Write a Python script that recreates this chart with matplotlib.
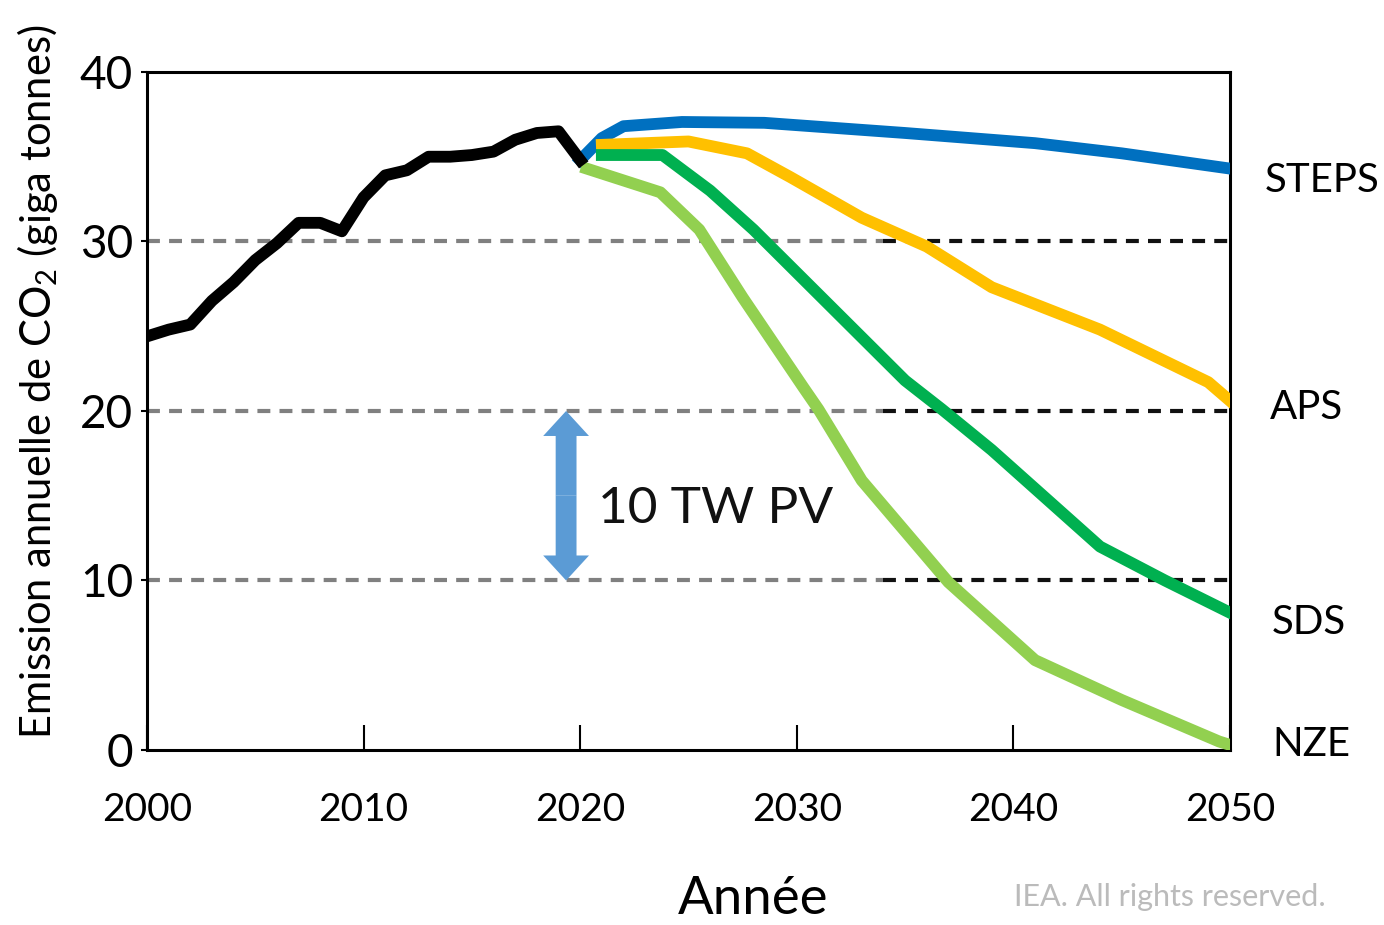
import matplotlib
matplotlib.use("Agg")
import matplotlib.pyplot as plt
from matplotlib import font_manager

# ---- data -------------------------------------------------------------
hist_years = [2000, 2001, 2002, 2003, 2004, 2005, 2006, 2007, 2008, 2009, 2010,
              2011, 2012, 2013, 2014, 2015, 2016, 2017, 2018, 2019, 2020]
hist_values = [24.4, 24.8, 25.1, 26.5, 27.6, 28.9, 29.9, 31.1, 31.1, 30.6, 32.6,
               33.9, 34.2, 35.0, 35.0, 35.1, 35.3, 36.0, 36.4, 36.5, 34.8]

steps_years = [2020, 2021, 2022, 2024.7, 2028.5, 2035, 2041, 2045, 2050]
steps_values = [34.8, 36.1, 36.8, 37.05, 37.0, 36.4, 35.8, 35.2, 34.3]

aps_years = [2021, 2025, 2027.7, 2029.7, 2033, 2036, 2039, 2044, 2049, 2050]
aps_values = [35.7, 35.9, 35.2, 33.8, 31.4, 29.7, 27.3, 24.8, 21.7, 20.6]

sds_years = [2021, 2023.8, 2026, 2028, 2035, 2036.7, 2039, 2044, 2047, 2050]
sds_values = [35.1, 35.1, 33.0, 30.7, 21.8, 20.1, 17.7, 12.0, 10.0, 8.1]

nze_years = [2020.3, 2023.7, 2025.5, 2027.5, 2030.3, 2031, 2033, 2037, 2041, 2045, 2049.5, 2050]
nze_values = [34.3, 32.9, 30.7, 26.7, 21.4, 20.1, 15.9, 9.9, 5.3, 2.95, 0.5, 0.3]

scenario_labels = ["STEPS", "APS", "SDS", "NZE"]
x_ticks = [2000, 2010, 2020, 2030, 2040, 2050]
y_ticks = [0, 10, 20, 30, 40]
grid_levels = [10, 20, 30]
pv_range = (10, 20)

# ---- fonts ------------------------------------------------------------
available = {f.name for f in font_manager.fontManager.ttflist}
main_font = "Liberation Sans Narrow" if "Liberation Sans Narrow" in available else "Lato"
plt.rcParams["font.family"] = [main_font, "DejaVu Sans"]
plt.rcParams["mathtext.fontset"] = "custom"
plt.rcParams["mathtext.rm"] = main_font
plt.rcParams["mathtext.it"] = main_font

fig = plt.figure(figsize=(13.84, 9.25), dpi=100)
ax = fig.add_axes([0.1062, 0.1892, 0.7825, 0.7330])

# dashed reference levels: grey on the left, darker on the right
for lvl in grid_levels:
    ax.axhline(lvl, xmin=0.0, xmax=0.68, color="#808080", lw=3.0,
               dashes=(3.1, 2.2), zorder=1)
    ax.axhline(lvl, xmin=0.68, xmax=1.0, color="#111111", lw=3.0,
               dashes=(3.1, 2.2), zorder=1)

lw = 8.5
ax.plot(steps_years, steps_values, color="#0070C0", lw=lw, solid_joinstyle="round", zorder=3)
ax.plot(aps_years, aps_values, color="#FFC000", lw=lw, solid_joinstyle="round", zorder=3)
ax.plot(sds_years, sds_values, color="#00B050", lw=lw, solid_joinstyle="round", zorder=3)
ax.plot(nze_years, nze_values, color="#92D050", lw=lw, solid_joinstyle="round", zorder=3)
ax.plot(hist_years, hist_values, color="black", lw=lw, solid_joinstyle="round", zorder=4)

# double-headed arrow marking the 10 Gt band
arrow_x = 2019.35
mid = sum(pv_range) / 2
for end in pv_range:
    ax.annotate("", xy=(arrow_x, end), xytext=(arrow_x, mid),
                arrowprops=dict(arrowstyle="simple,head_length=1.8,head_width=3.3,tail_width=1.5",
                                color="#5B9BD5", lw=0, shrinkA=0, shrinkB=0,
                                mutation_scale=10),
                zorder=5)
ax.text(2020.8, 14.2, "10 TW PV", fontsize=37, va="center", ha="left", color="#111111")

ax.set_xlim(2000, 2050)
ax.set_ylim(0, 40)
ax.set_xticks(x_ticks)
ax.set_yticks(y_ticks)
ax.tick_params(axis="x", direction="in", length=18, width=1.5, pad=30,
               labelsize=28, top=False)
ax.tick_params(axis="y", direction="out", length=4, width=1.5, pad=6, labelsize=33)
for s in ax.spines.values():
    s.set_linewidth(2.2)
    s.set_color("black")

ax.set_ylabel("Emission annuelle de CO$_2$ (giga tonnes)", fontsize=30)
ax.yaxis.set_label_coords(-0.08, 0.543)

fig.text(0.544, 0.028, "Année", fontsize=38, ha="center", va="center")

# scenario names to the right of the plot area
trans = ax.get_yaxis_transform()
label_pos = [(1.032, 33.6), (1.037, 20.2), (1.039, 7.5), (1.039, 0.3)]
for name, (lx, ly) in zip(scenario_labels, label_pos):
    ax.text(lx, ly, name, transform=trans, fontsize=29, va="center", ha="left",
            clip_on=False)

fig.text(0.845, 0.030, "IEA. All rights reserved.", fontsize=22, color="#BBBBBB",
         ha="center", va="center")

fig.savefig("out.png", dpi=100)
